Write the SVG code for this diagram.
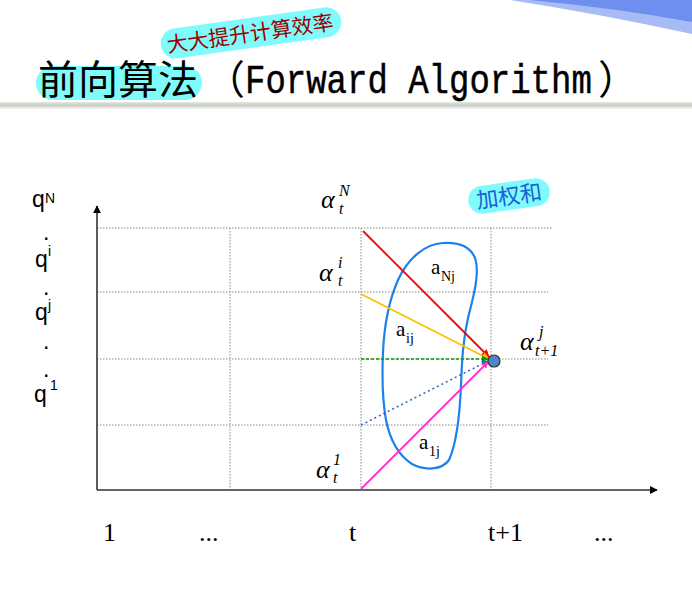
<svg xmlns="http://www.w3.org/2000/svg" width="692" height="591" viewBox="0 0 692 591">
<style>
.grid{stroke:#8a8a8a;stroke-width:1;stroke-dasharray:1.5 1.5;fill:none}
.axis{stroke:#333;stroke-width:1.6;fill:none}
.q{font-family:"Liberation Sans",Arial,sans-serif;font-size:23px;fill:#000}
.qs{font-family:"Liberation Sans",Arial,sans-serif;font-size:14px;fill:#000}
.al{font-family:"Liberation Serif","Times New Roman",serif;font-style:italic;font-size:26px;fill:#000}
.als{font-family:"Liberation Serif","Times New Roman",serif;font-style:italic;font-size:16px;fill:#000}
.a{font-family:"Liberation Serif","Times New Roman",serif;font-size:21px;fill:#000}
.as{font-family:"Liberation Serif","Times New Roman",serif;font-size:14px;fill:#000}
.x{font-family:"Liberation Serif","Times New Roman",serif;font-size:26px;fill:#000}
.cjk{font-family:"Noto Sans CJK SC",sans-serif}
</style>
<defs>
<marker id="mk" viewBox="0 0 10 10" refX="9" refY="5" markerWidth="8" markerHeight="8" orient="auto" markerUnits="userSpaceOnUse"><path d="M0,0 L10,5 L0,10 Z" fill="#000"/></marker>
<marker id="mr" viewBox="0 0 10 10" refX="9" refY="5" markerWidth="8" markerHeight="8" orient="auto" markerUnits="userSpaceOnUse"><path d="M0,0 L10,5 L0,10 Z" fill="#ff0000"/></marker>
<marker id="my" viewBox="0 0 10 10" refX="9" refY="5" markerWidth="8" markerHeight="8" orient="auto" markerUnits="userSpaceOnUse"><path d="M0,0 L10,5 L0,10 Z" fill="#ffc000"/></marker>
<marker id="mg" viewBox="0 0 10 10" refX="9" refY="5" markerWidth="7" markerHeight="7" orient="auto" markerUnits="userSpaceOnUse"><path d="M0,0 L10,5 L0,10 Z" fill="#00a000"/></marker>
<marker id="mb" viewBox="0 0 10 10" refX="9" refY="5" markerWidth="7" markerHeight="7" orient="auto" markerUnits="userSpaceOnUse"><path d="M0,0 L10,5 L0,10 Z" fill="#3060c0"/></marker>
<marker id="mm" viewBox="0 0 10 10" refX="9" refY="5" markerWidth="7" markerHeight="7" orient="auto" markerUnits="userSpaceOnUse"><path d="M0,0 L10,5 L0,10 Z" fill="#ff33cc"/></marker>
<linearGradient id="bar" x1="0" y1="0" x2="0" y2="1"><stop offset="0" stop-color="#e2e9dc"/><stop offset="0.5" stop-color="#c9cbc6"/><stop offset="1" stop-color="#f6f6f6"/></linearGradient>
</defs>
<rect width="692" height="591" fill="#fff"/>
<!-- decoration top-right -->
<path d="M510,0 Q600,14 692,34 L692,0 Z" fill="#a7bcf5"/>
<path d="M530,0 Q615,8 692,22 L692,0 Z" fill="#6e8ef0"/>
<rect x="0" y="102" width="692" height="7" fill="url(#bar)"/>
<!-- title -->
<g id="title">
<rect x="36" y="66" width="166" height="34" rx="17" fill="#80fbfb"/>
<text x="38" y="94" class="cjk" font-size="40" fill="#000">前向算法</text>
<text x="205" y="94" class="cjk" font-size="40" fill="#000">（</text>
<g transform="translate(245,93) scale(1,1.2)">
<text x="0" y="0" font-family="Liberation Mono,monospace" font-size="34" fill="#000" stroke="#000" stroke-width="0.4">Forward Algorithm</text>
</g>
<text x="598" y="94" class="cjk" font-size="40" fill="#000">）</text>
</g>
<g id="note1" transform="rotate(-8 250 33)">
<rect x="160" y="18" width="182" height="30" rx="15" fill="#80fbfb"/>
<text x="250" y="41" class="cjk" font-size="21" fill="#9a0000" text-anchor="middle">大大提升计算效率</text>
</g>
<g id="note2" transform="rotate(-8 509 196)">
<rect x="468" y="182" width="82" height="28" rx="14" fill="#80fbfb"/>
<text x="509" y="204" class="cjk" font-size="22" fill="#1a5fd6" text-anchor="middle">加权和</text>
</g>
<!-- grid -->
<g id="grid">
<line class="grid" x1="97" y1="228" x2="552" y2="228"/>
<line class="grid" x1="97" y1="292" x2="548" y2="292"/>
<line class="grid" x1="97" y1="359" x2="548" y2="359"/>
<line class="grid" x1="97" y1="425" x2="548" y2="425"/>
<line class="grid" x1="230" y1="228" x2="230" y2="490"/>
<line class="grid" x1="361" y1="228" x2="361" y2="490"/>
<line class="grid" x1="491" y1="228" x2="491" y2="490"/>
</g>
<g id="axes">
<line class="axis" x1="97" y1="490" x2="97" y2="206" marker-end="url(#mk)"/>
<line class="axis" x1="97" y1="490" x2="657" y2="490" marker-end="url(#mk)"/>
</g>
<!-- y labels -->
<g id="ylabels">
<text x="32" y="207" class="q">q</text><text x="45" y="203" class="qs">N</text>
<text x="43" y="240" class="q">.</text>
<text x="35" y="267" class="q">q</text><text x="48" y="256" class="qs">i</text>
<text x="43" y="295" class="q">.</text>
<text x="35" y="320" class="q">q</text><text x="48" y="310" class="qs">j</text>
<text x="43" y="349" class="q">.</text>
<text x="43" y="377" class="q">.</text>
<text x="34" y="402" class="q">q</text><text x="50" y="390" class="qs">1</text>
</g>
<!-- x labels -->
<g id="xlabels">
<text x="103" y="541" class="x">1</text>
<text x="199" y="541" class="x">...</text>
<text x="349" y="541" class="x">t</text>
<text x="488" y="541" class="x">t+1</text>
<text x="594" y="541" class="x">...</text>
</g>
<!-- loop -->
<path id="loop" d="M443,243 C458,242 470,246 475,258 C480,272 474,295 468,318 C463,340 462,360 461,385 C460,410 458,440 449,460 C442,470 425,471 412,464 C398,455 390,440 386,420 C382,398 382,375 383,352 C384,330 387,305 398,280 C408,258 425,244 443,243 Z" fill="none" stroke="#1b82ec" stroke-width="2.2"/>
<!-- connectors -->
<g id="connectors">
<line x1="363" y1="231" x2="489" y2="357" stroke="#ff0000" stroke-width="1.8" marker-end="url(#mr)"/>
<line x1="361" y1="294" x2="489" y2="359" stroke="#ffc000" stroke-width="1.8" marker-end="url(#my)"/>
<line x1="361" y1="359" x2="488" y2="359" stroke="#00a000" stroke-width="1.5" stroke-dasharray="3 2" marker-end="url(#mg)"/>
<line x1="361" y1="425" x2="488" y2="361" stroke="#3060c0" stroke-width="1.5" stroke-dasharray="2 3" marker-end="url(#mb)"/>
<line x1="361" y1="489" x2="488" y2="362" stroke="#ff33cc" stroke-width="1.8" marker-end="url(#mm)"/>
</g>
<g id="node-target">
<circle cx="494" cy="361" r="6" fill="#4f86c6" stroke="#333" stroke-width="1.2"/>
</g>
<!-- alpha labels -->
<g id="alphas">
<text x="321" y="208" class="al">α</text><text x="339" y="196" class="als">N</text><text x="339" y="214" class="als">t</text>
<text x="319" y="281" class="al">α</text><text x="338" y="268" class="als">i</text><text x="338" y="286" class="als">t</text>
<text x="316" y="478" class="al">α</text><text x="333" y="465" class="als">1</text><text x="333" y="483" class="als">t</text>
<text x="520" y="350" class="al">α</text><text x="539" y="337" class="als">j</text><text x="535" y="356" class="als">t+1</text>
</g>
<g id="alabels">
<text x="431" y="274" class="a">a</text><text x="441" y="281" class="as">Nj</text>
<text x="396" y="336" class="a">a</text><text x="406" y="343" class="as">ij</text>
<text x="419" y="449" class="a">a</text><text x="429" y="456" class="as">1j</text>
</g>
</svg>
